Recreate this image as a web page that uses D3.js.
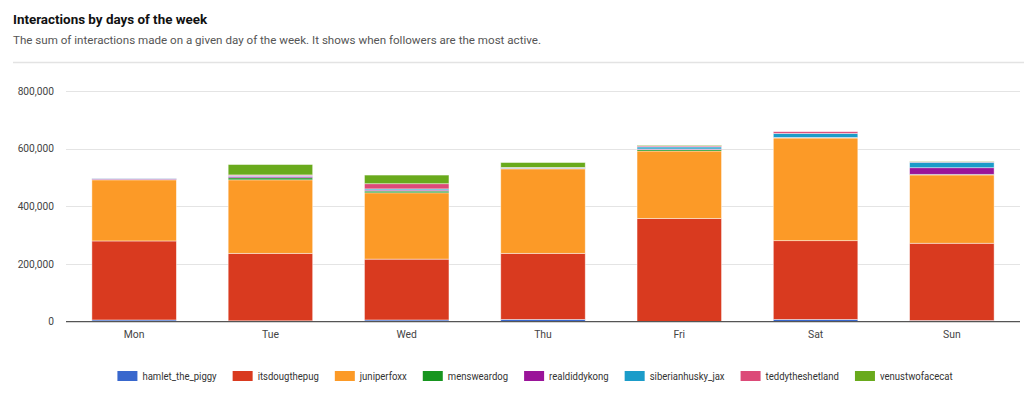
<!DOCTYPE html>
<html><head><meta charset="utf-8">
<script src="https://cdn.jsdelivr.net/npm/d3@7"></script>
<style>
body{margin:0;background:#fff;}
svg{display:block;font-family:Roboto,"Noto Sans",Arial,sans-serif;}
</style></head>
<body>
<svg id="c" width="1024" height="400"></svg>
<script>
const days = ["Mon","Tue","Wed","Thu","Fri","Sat","Sun"];
const seriesNames = ["hamlet_the_piggy","itsdougthepug","juniperfoxx","mensweardog","realdiddykong","siberianhusky_jax","teddytheshetland","venustwofacecat"];
const colors = ["#3867cd","#d93a1f","#fc9a27","#17951f","#9a1499","#1b9cc9","#dc4a78","#69aa1c"];
const hamlet   = [6000, 3000, 6000, 8000, 1000, 8000, 4000];
const doug     = [274000, 234000, 211000, 229000, 357000, 273000, 268000];
const juniper  = [212000, 255000, 230000, 293000, 234000, 356000, 237000];
const menswear = [1000, 7000, 6000, 1500, 5000, 1000, 2000];
const diddy    = [3000, 5000, 3500, 1000, 2000, 1000, 23000];
const husky    = [1000, 2000, 4000, 1500, 7000, 14000, 19000];
const teddy    = [0, 3000, 18000, 1000, 3500, 6000, 1500];
const venus    = [0, 36000, 30000, 17000, 2500, 0, 1500];
const yTicks = [0, 200000, 400000, 600000, 800000];

const seriesValues = [hamlet, doug, juniper, menswear, diddy, husky, teddy, venus];
const rows = days.map((d,i)=>{const r={day:d}; seriesNames.forEach((s,j)=>r[s]=seriesValues[j][i]); return r;});
const stack = d3.stack().keys(seriesNames)(rows);

const svg = d3.select("#c");
const m = {left:66, right:1020, top:91, bottom:321.7};

svg.append("text").attr("x",13).attr("y",24).attr("font-size",13.4).attr("font-weight","bold").attr("fill","#111")
  .text("Interactions by days of the week");
svg.append("text").attr("x",13).attr("y",44).attr("font-size",11.6).attr("fill","#555")
  .text("The sum of interactions made on a given day of the week. It shows when followers are the most active.");
svg.append("line").attr("x1",13).attr("x2",1024).attr("y1",62.5).attr("y2",62.5).attr("stroke","#e3e3e3").attr("stroke-width",1.5);

const x = d3.scaleBand().domain(days).range([m.left,m.right]).paddingInner(0.38).paddingOuter(0.19);
const y = d3.scaleLinear().domain([0,800000]).range([m.bottom,m.top]);

const grid = svg.append("g");
grid.selectAll("line").data(yTicks.filter(t=>t>0)).join("line")
  .attr("x1",m.left).attr("x2",m.right).attr("y1",d=>Math.round(y(d))+0.5).attr("y2",d=>Math.round(y(d))+0.5)
  .attr("stroke","#e4e4e4").attr("stroke-width",1.2);

const yAxis = svg.append("g").attr("transform",`translate(${m.left-9},0)`)
  .call(d3.axisLeft(y).tickValues(yTicks).tickSize(0).tickFormat(d3.format(",")));
yAxis.select(".domain").remove();
yAxis.selectAll("text").attr("font-size",10.2).attr("fill","#444").attr("font-family","Roboto,Arial,sans-serif");

const g = svg.append("g");
stack.forEach((layer,j)=>{
  g.selectAll(null).data(layer).join("rect")
    .attr("x",d=>x(d.data.day))
    .attr("width",x.bandwidth())
    .attr("y",d=>y(d[1]))
    .attr("height",d=>Math.max(0,y(d[0])-y(d[1])))
    .attr("fill",colors[j])
    .attr("stroke","#ffffff").attr("stroke-opacity",0.55).attr("stroke-width",0.8);
});

svg.append("line").attr("x1",m.left).attr("x2",m.right).attr("y1",m.bottom).attr("y2",m.bottom).attr("stroke","#555").attr("stroke-width",1.2);

const xAxis = svg.append("g").attr("transform",`translate(0,${m.bottom+6})`)
  .call(d3.axisBottom(x).tickSize(0));
xAxis.select(".domain").remove();
xAxis.selectAll("text").attr("font-size",10.4).attr("fill","#444").attr("font-family","Roboto,Arial,sans-serif");

// legend
const lg = svg.append("g");
const items = lg.selectAll("g").data(seriesNames).join("g");
items.append("rect").attr("width",20).attr("height",10).attr("y",371).attr("fill",(d,i)=>colors[i]);
items.append("text").attr("x",25).attr("y",380).attr("font-size",10.6).attr("fill","#333").text(d=>d);
let pos=0; const offs=[];
items.each(function(d){
  offs.push(pos);
  const t=d3.select(this).select("text");
  const tw=t.node().getComputedTextLength()*0.9;
  t.attr("textLength",tw).attr("lengthAdjust","spacingAndGlyphs");
  pos+=25+tw+16;
});
const total=pos-16; const start=535-total/2;
items.attr("transform",(d,i)=>`translate(${start+offs[i]},0)`);
</script>
</body></html>
